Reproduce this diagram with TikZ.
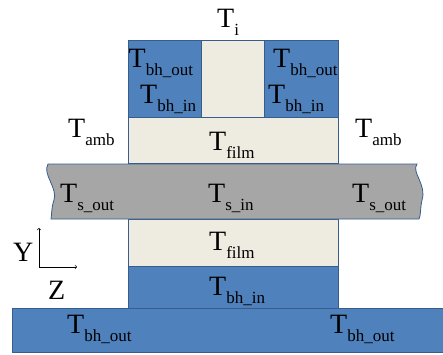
\documentclass[tikz,border=0pt]{standalone}
\usepackage{fontspec}
\setmainfont{Liberation Serif}
\usepackage{xcolor}
\definecolor{hole-blue}{HTML}{4F81BD}
\definecolor{edge-blue}{HTML}{385D8A}
\definecolor{film-tan}{HTML}{EEECE1}
\definecolor{sub-gray}{HTML}{A6A6A6}
\newcommand{\tsub}[1]{T\raisebox{-8pt}{\fontsize{17}{17}\selectfont #1}}

\begin{document}
\begin{tikzpicture}[x=1pt, y=-1pt,
    every node/.style={font=\fontsize{28}{30}\selectfont, inner sep=0pt},
    blue block/.style={draw=edge-blue, fill=hole-blue, line width=0.8pt},
    tan block/.style={draw=edge-blue, fill=film-tan, line width=0.8pt},
    temp/.style={anchor=base west}]
  \useasboundingbox (0, 0) rectangle (443, 354);
  \begin{scope}
    \clip (0, 0) rectangle (443, 354);
    \node[blue block, minimum width=73pt, minimum height=77pt] (bhl) at (164.5, 78.5) {};
    \node[tan block, minimum width=63pt, minimum height=77pt] (core) at (232.5, 78.5) {};
    \node[blue block, minimum width=74pt, minimum height=77pt] (bhr) at (301, 78.5) {};
    \node[tan block, minimum width=210pt, minimum height=46pt] (filmt) at (233, 140) {};
    \node[tan block, minimum width=210pt, minimum height=47pt] (filmb) at (233, 242.5) {};
    \node[blue block, minimum width=210pt, minimum height=42pt] (bhin) at (233, 287) {};
    \node[blue block, minimum width=440pt, minimum height=44pt] (bhout) at (232, 330) {};
    \draw[draw=edge-blue, fill=sub-gray, line width=0.8pt]
      (48, 164) -- (417, 164)
      .. controls (411, 172) and (427, 185) .. (422, 200)
      .. controls (420, 209) and (421, 215) .. (419, 219)
      -- (51, 219)
      .. controls (52, 214) and (51, 209) .. (54, 200)
      .. controls (58, 188) and (42, 174) .. (48, 164) -- cycle;
  \end{scope}

  \node[temp] (ti) at (217, 27) {\tsub{i}};
  \node[temp] (tbhol) at (128.5, 67) {\tsub{bh\_out}};
  \node[temp] (tbhil) at (140, 103) {\tsub{bh\_in}};
  \node[temp] (tbhor) at (273, 67) {\tsub{bh\_out}};
  \node[temp] (tbhir) at (268, 103) {\tsub{bh\_in}};
  \node[temp] (tambl) at (68, 137) {\tsub{amb}};
  \node[temp] (tambr) at (355, 137) {\tsub{amb}};
  \node[temp] (tfilmt) at (209, 150) {\tsub{film}};
  \node[temp] (tsoutl) at (60, 202) {\tsub{s\_out}};
  \node[temp] (tsin) at (208, 202) {\tsub{s\_in}};
  \node[temp] (tsoutr) at (352, 202) {\tsub{s\_out}};
  \node[temp] (tfilmb) at (209, 250) {\tsub{film}};
  \node[temp] (tbhin) at (209, 295) {\tsub{bh\_in}};
  \node[temp] (tbhoutl) at (67, 333) {\tsub{bh\_out}};
  \node[temp] (tbhoutr) at (330, 333) {\tsub{bh\_out}};

  \coordinate (o) at (39, 267);
  \coordinate (yend) at (39, 228);
  \coordinate (zend) at (77, 267);
  \draw[->, line width=0.6pt] (o) -- (yend);
  \draw[->, line width=0.6pt] (o) -- (zend);
  \node[temp] (ylab) at (13, 261) {Y};
  \node[temp] (zlab) at (48, 299) {Z};
\end{tikzpicture}
\end{document}
